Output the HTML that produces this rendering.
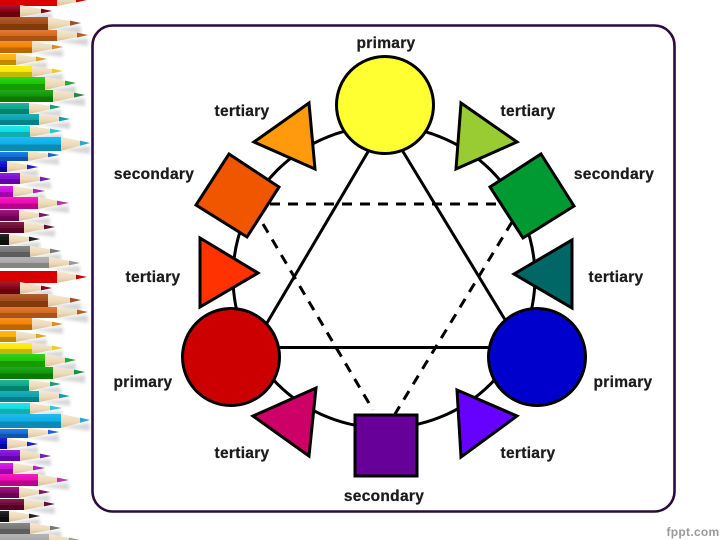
<!DOCTYPE html>
<html><head><meta charset="utf-8"><style>
html,body{margin:0;padding:0;background:#fff;width:720px;height:540px;overflow:hidden}
svg{display:block}
text{font-family:"Liberation Sans",sans-serif;font-weight:700;font-size:15.5px;fill:#1a1a1a;stroke:#1a1a1a;stroke-width:.25;text-anchor:middle;letter-spacing:.3px}
.s{stroke:#000;stroke-width:3;stroke-linejoin:miter}
</style></head><body>
<svg width="720" height="540" viewBox="0 0 720 540" xmlns="http://www.w3.org/2000/svg">
<defs>
<filter id="b" x="-20%" y="-20%" width="140%" height="140%"><feGaussianBlur stdDeviation="1.6"/></filter>
<filter id="t"><feGaussianBlur stdDeviation=".35"/></filter>
<linearGradient id="w" x1="0" x2="0" y1="0" y2="1"><stop offset="0" stop-color="#f6e9d2"/><stop offset=".6" stop-color="#ecd8b6"/><stop offset="1" stop-color="#d8bf98"/></linearGradient>
<linearGradient id="d" x1="0" x2="0" y1="0" y2="1"><stop offset="0" stop-color="#fff" stop-opacity=".12"/><stop offset=".5" stop-color="#fff" stop-opacity="0"/><stop offset=".55" stop-color="#000" stop-opacity=".22"/><stop offset="1" stop-color="#000" stop-opacity=".22"/></linearGradient>
<g id="P">
<g fill="#000" opacity=".16" filter="url(#b)">
<path d="M20 16L52 13V20Z"/><path d="M48 29L81 26V34Z"/><path d="M57 41L88 38V46Z"/><path d="M32 53L63 50V57Z"/><path d="M16 65L47 62V69Z"/><path d="M32 77L63 74V81Z"/><path d="M45 90L76 86V94Z"/><path d="M53 102L85 98V106Z"/><path d="M29 113L61 110V117Z"/><path d="M39 125L70 122V129Z"/><path d="M30 137L62 134V141Z"/><path d="M61 150L90 146V154Z"/><path d="M28 161L59 158V165Z"/><path d="M7 173L38 170V177Z"/><path d="M20 185L51 182V189Z"/><path d="M13 197L45 194V201Z"/><path d="M38 209L69 206V213Z"/><path d="M19 221L50 218V225Z"/><path d="M24 233L55 230V237Z"/><path d="M9 245L40 242V249Z"/><path d="M30 257L61 254V261Z"/><path d="M49 269L80 266V273Z"/>
</g>
<g id="R">
<rect x="0" y="-6" width="57" height="12" fill="#d90000"/><path d="M57-6L87 0 57 6Z" fill="url(#w)"/><path d="M76-2.4L87 0 76 2.4Z" fill="#c00"/>
<rect x="0" y="5" width="20" height="12" fill="#8c0014"/><path d="M20 5L52 11 20 17Z" fill="url(#w)"/><path d="M41 8.6L52 11 41 13.4Z" fill="#8c0014"/>
<rect x="0" y="17" width="48" height="13" fill="#a44a16"/><path d="M48 17L81 23 48 30Z" fill="url(#w)"/><path d="M70 20.6L81 23 70 25.8Z" fill="#a4502a"/>
<rect x="0" y="30" width="57" height="11" fill="#d9691c"/><path d="M57 30L88 35 57 41Z" fill="url(#w)"/><path d="M77 32.6L88 35 77 37.6Z" fill="#b06428"/>
<rect x="0" y="41" width="32" height="12" fill="#f58205"/><path d="M32 41L63 47 32 53Z" fill="url(#w)"/><path d="M52 44.6L63 47 52 49.4Z" fill="#dc8a28"/>
<rect x="0" y="54" width="16" height="11" fill="#fcb007"/><path d="M16 54L47 59 16 65Z" fill="url(#w)"/><path d="M36 56.6L47 59 36 61.4Z" fill="#e8a020"/>
<rect x="0" y="66" width="32" height="11" fill="#fdea00"/><path d="M32 66L63 71 32 77Z" fill="url(#w)"/><path d="M52 68.6L63 71 52 73.4Z" fill="#f0cc20"/>
<rect x="0" y="77" width="45" height="13" fill="#19c800"/><path d="M45 77L76 83 45 90Z" fill="url(#w)"/><path d="M65 80.6L76 83 65 85.8Z" fill="#22a83a"/>
<rect x="0" y="90" width="53" height="12" fill="#0a9a05"/><path d="M53 90L85 95 53 102Z" fill="url(#w)"/><path d="M74 92.6L85 95 74 97.6Z" fill="#1a9040"/>
<rect x="0" y="103" width="29" height="11" fill="#06a98c"/><path d="M29 103L61 107 29 114Z" fill="url(#w)"/><path d="M50 104.6L61 107 50 109.4Z" fill="#129a80"/>
<rect x="0" y="114" width="39" height="11" fill="#04a5b0"/><path d="M39 114L70 119 39 125Z" fill="url(#w)"/><path d="M59 116.6L70 119 59 121.4Z" fill="#10a0ac"/>
<rect x="0" y="126" width="30" height="11" fill="#0ae0e6"/><path d="M30 126L62 131 30 137Z" fill="url(#w)"/><path d="M50 128.6L62 131 50 133.4Z" fill="#20c8d8"/>
<rect x="0" y="137" width="61" height="14" fill="#09b0ea"/><path d="M61 137L90 143 61 151Z" fill="url(#w)"/><path d="M80 140.6L90 143 80 145.8Z" fill="#28a8d0"/>
<rect x="0" y="152" width="28" height="9" fill="#0a6cdc"/><path d="M28 151L59 155 28 161Z" fill="url(#w)"/><path d="M48 152.8L59 155 48 157.2Z" fill="#2060d0"/>
<rect x="0" y="161" width="7" height="11" fill="#0808d0"/><path d="M7 161L38 167 7 172Z" fill="url(#w)"/><path d="M27 164.6L38 167 27 169.4Z" fill="#2020c0"/>
<rect x="0" y="173" width="20" height="11" fill="#8008d8"/><path d="M20 173L51 179 20 184Z" fill="url(#w)"/><path d="M40 176.6L51 179 40 181.4Z" fill="#7020b0"/>
<rect x="0" y="186" width="13" height="11" fill="#d008e0"/><path d="M13 186L45 191 13 197Z" fill="url(#w)"/><path d="M33 188.6L45 191 33 193.4Z" fill="#b020c0"/>
<rect x="0" y="197" width="38" height="12" fill="#ee06b4"/><path d="M38 197L69 203 38 209Z" fill="url(#w)"/><path d="M57 200.6L69 203 57 205.4Z" fill="#c030a8"/>
<rect x="0" y="210" width="19" height="11" fill="#8a0068"/><path d="M19 210L50 215 19 221Z" fill="url(#w)"/><path d="M39 212.6L50 215 39 217.4Z" fill="#801868"/>
<rect x="0" y="222" width="24" height="11" fill="#6a0830"/><path d="M24 222L55 227 24 233Z" fill="url(#w)"/><path d="M44 224.6L55 227 44 229.4Z" fill="#601038"/>
<rect x="0" y="234" width="9" height="11" fill="#111"/><path d="M9 234L40 239 9 245Z" fill="url(#w)"/><path d="M29 236.6L40 239 29 241.4Z" fill="#222"/>
<rect x="0" y="246" width="30" height="11" fill="#777"/><path d="M30 246L61 251 30 257Z" fill="url(#w)"/><path d="M50 248.6L61 251 50 253.4Z" fill="#777"/>
<rect x="0" y="257" width="49" height="11" fill="#aaa"/><path d="M49 257L80 263 49 268Z" fill="url(#w)"/><path d="M69 260.6L80 263 69 265.4Z" fill="#999"/>
</g>
<rect x="0" y="5" width="20" height="12" fill="url(#d)"/><rect x="0" y="17" width="48" height="13" fill="url(#d)"/><rect x="0" y="30" width="57" height="11" fill="url(#d)"/><rect x="0" y="41" width="32" height="12" fill="url(#d)"/><rect x="0" y="54" width="16" height="11" fill="url(#d)"/><rect x="0" y="66" width="32" height="11" fill="url(#d)"/><rect x="0" y="77" width="45" height="13" fill="url(#d)"/><rect x="0" y="90" width="53" height="12" fill="url(#d)"/><rect x="0" y="103" width="29" height="11" fill="url(#d)"/><rect x="0" y="114" width="39" height="11" fill="url(#d)"/><rect x="0" y="126" width="30" height="11" fill="url(#d)"/><rect x="0" y="137" width="61" height="14" fill="url(#d)"/><rect x="0" y="152" width="28" height="9" fill="url(#d)"/><rect x="0" y="161" width="7" height="11" fill="url(#d)"/><rect x="0" y="173" width="20" height="11" fill="url(#d)"/><rect x="0" y="186" width="13" height="11" fill="url(#d)"/><rect x="0" y="197" width="38" height="12" fill="url(#d)"/><rect x="0" y="210" width="19" height="11" fill="url(#d)"/><rect x="0" y="222" width="24" height="11" fill="url(#d)"/><rect x="0" y="234" width="9" height="11" fill="url(#d)"/><rect x="0" y="246" width="30" height="11" fill="url(#d)"/><rect x="0" y="257" width="49" height="11" fill="url(#d)"/>
</g>
</defs>
<rect width="720" height="540" fill="#fff"/>
<g filter="url(#t)">
<use href="#P"/>
<use href="#P" y="277"/>
<rect x="92.5" y="25.5" width="582" height="486" rx="20" ry="20" fill="#fff" stroke="#2c0a3c" stroke-width="2.6"/>
</g>
<g filter="url(#t)">
<circle cx="384" cy="277" r="151" fill="none" stroke="#000" stroke-width="3"/>
<g fill="none" stroke="#000" stroke-width="3">
<path d="M372 145L264 328M399 145L507 323M275 347.5H495"/>
<path d="M270 204H500M263 224L373 410M512 222L395 414" stroke-dasharray="10 8"/>
</g>
<circle class="s" cx="385" cy="105" r="48.5" fill="#ffff33"/>
<circle class="s" cx="231" cy="357" r="48.5" fill="#cc0000"/>
<circle class="s" cx="537" cy="357" r="48.5" fill="#0000cc"/>
<path class="s" d="M254 142L309 103L315 169Z" fill="#ff9a0a"/>
<path class="s" d="M229 154L279 187L247 237L196 205Z" fill="#f05505"/>
<path class="s" d="M200 238L258 273L200 307Z" fill="#ff3300"/>
<path class="s" d="M253 416L316 388L309 456Z" fill="#cc0066"/>
<rect class="s" x="355" y="415" width="62" height="61" fill="#660099"/>
<path class="s" d="M457 390L517 416L461 457Z" fill="#6600ff"/>
<path class="s" d="M514 274L572 240V308Z" fill="#006666"/>
<path class="s" d="M541 154L574 206L523 238L490 187Z" fill="#009933"/>
<path class="s" d="M461 103L517 142L456 169Z" fill="#99cc33"/>
<text x="386" y="48">primary</text>
<text x="242" y="116">tertiary</text>
<text x="528" y="116">tertiary</text>
<text x="154" y="179">secondary</text>
<text x="614" y="179">secondary</text>
<text x="153" y="282">tertiary</text>
<text x="616" y="282">tertiary</text>
<text x="143" y="387">primary</text>
<text x="623" y="387">primary</text>
<text x="242" y="458">tertiary</text>
<text x="528" y="458">tertiary</text>
<text x="384" y="501">secondary</text>
<text x="693" y="536" style="font-size:12px;fill:#999;stroke:none;letter-spacing:.3px">fppt.com</text>
</g>
</svg>
</body></html>
